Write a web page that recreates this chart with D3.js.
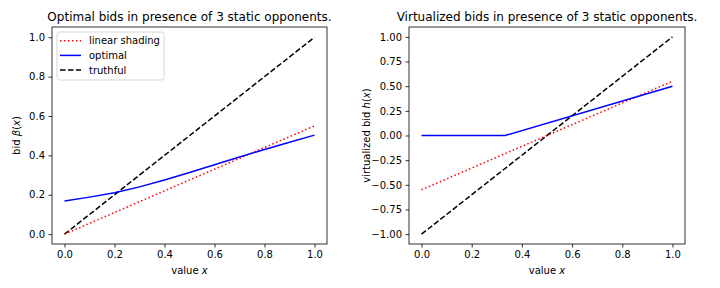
<!DOCTYPE html>
<html>
<head>
<meta charset="utf-8">
<script src="https://cdn.jsdelivr.net/npm/d3@7"></script>
<style>
  body { margin: 0; background: #fff; }
  svg text { font-family: "DejaVu Sans", sans-serif; fill: #000; }
</style>
</head>
<body>
<div id="chart"></div>
<script>
// ---- data ----
const valueGrid     = [0, 0.1, 0.2, 0.3, 0.4, 0.5, 0.6, 0.7, 0.8, 0.9, 1.0];
const optimalBid    = [0.168, 0.188, 0.210, 0.240, 0.275, 0.313, 0.352, 0.392, 0.430, 0.467, 0.503];
const shadingEnds   = [0, 0.55];
const truthfulEnds  = [0, 1];

const virtualX        = [0, 1 / 3, 1];
const virtualOptimal  = [0, 0, 0.5];
const virtualShading  = [-0.55, 0.55];
const virtualTruthful = [-1, 1];
const endsX           = [0, 1];

const xTicks      = [0, 0.2, 0.4, 0.6, 0.8, 1.0];
const leftYTicks  = [0, 0.2, 0.4, 0.6, 0.8, 1.0];
const rightYTicks = [-1, -0.75, -0.5, -0.25, 0, 0.25, 0.5, 0.75, 1];

const legendItems = [
  { label: "linear shading", color: "#ff0000", dash: "1.5,2.475" },
  { label: "optimal",        color: "#0000ff", dash: null },
  { label: "truthful",       color: "#000000", dash: "5.55,2.4" }
];

const width = 720, height = 288;
const svg = d3.select("#chart").append("svg")
  .attr("width", width)
  .attr("height", height);

const fmtMinus = s => s.replace("-", "\u2212");

function drawPanel(opt) {
  const x = d3.scaleLinear().domain([-0.05, 1.05]).range([opt.left, opt.right]);
  const y = d3.scaleLinear().domain(opt.yDomain).range([opt.bottom, opt.top]);
  const g = svg.append("g");
  const line = d3.line().x(d => x(d[0])).y(d => y(d[1]));

  // series
  opt.series.forEach(s => {
    g.append("path")
      .datum(d3.zip(s.xs, s.ys))
      .attr("d", line)
      .attr("fill", "none")
      .attr("stroke", s.item.color)
      .attr("stroke-width", 1.5)
      .attr("stroke-dasharray", s.item.dash);
  });

  // axes
  const xAxis = d3.axisBottom(x).tickValues(xTicks).tickFormat(d3.format(".1f"))
    .tickSize(3.5).tickPadding(3.5);
  const yAxis = d3.axisLeft(y).tickValues(opt.yTicks)
    .tickFormat(d => fmtMinus(d3.format(opt.yFormat)(d)))
    .tickSize(3.5).tickPadding(3.5);

  g.append("g").attr("transform", `translate(0,${opt.bottom})`).call(xAxis)
    .call(a => a.select(".domain").remove());
  g.append("g").attr("transform", `translate(${opt.left},0)`).call(yAxis)
    .call(a => a.select(".domain").remove());
  g.selectAll(".tick line").attr("stroke", "#000").attr("stroke-width", 0.8);
  g.selectAll(".tick text").attr("font-size", 10).attr("fill", "#000")
    .attr("font-family", "DejaVu Sans, sans-serif");

  // frame
  g.append("rect")
    .attr("x", opt.left).attr("y", opt.top)
    .attr("width", opt.right - opt.left).attr("height", opt.bottom - opt.top)
    .attr("fill", "none").attr("stroke", "#000").attr("stroke-width", 0.8);

  // title and labels
  g.append("text")
    .attr("x", (opt.left + opt.right) / 2).attr("y", 21)
    .attr("text-anchor", "middle").attr("font-size", 12)
    .text(opt.title);

  const xl = g.append("text")
    .attr("x", (opt.left + opt.right) / 2).attr("y", 274)
    .attr("text-anchor", "middle").attr("font-size", 10);
  xl.append("tspan").text("value ");
  xl.append("tspan").attr("font-style", "italic").text("x");

  const yl = g.append("text")
    .attr("transform", `translate(${opt.ylabelX},${(opt.top + opt.bottom) / 2}) rotate(-90)`)
    .attr("text-anchor", "middle").attr("font-size", 10);
  opt.ylabel.forEach(p => yl.append("tspan").attr("font-style", p.italic ? "italic" : null).text(p.t));

  return g;
}

drawPanel({
  left: 52, right: 327, top: 27, bottom: 244,
  yDomain: [-0.05, 1.052],
  yTicks: leftYTicks, yFormat: ".1f",
  title: "Optimal bids in presence of 3 static opponents.",
  ylabelX: 20,
  ylabel: [{ t: "bid " }, { t: "\u03B2", italic: true }, { t: "(" }, { t: "x", italic: true }, { t: ")" }],
  series: [
    { xs: endsX, ys: truthfulEnds, item: legendItems[2] },
    { xs: endsX, ys: shadingEnds, item: legendItems[0] },
    { xs: valueGrid, ys: optimalBid, item: legendItems[1] }
  ]
});

drawPanel({
  left: 409, right: 685, top: 27, bottom: 244,
  yDomain: [-1.1, 1.1],
  yTicks: rightYTicks, yFormat: ".2f",
  title: "Virtualized bids in presence of 3 static opponents.",
  ylabelX: 370,
  ylabel: [{ t: "virtualized bid " }, { t: "h", italic: true }, { t: "(" }, { t: "x", italic: true }, { t: ")" }],
  series: [
    { xs: endsX, ys: virtualTruthful, item: legendItems[2] },
    { xs: endsX, ys: virtualShading, item: legendItems[0] },
    { xs: virtualX, ys: virtualOptimal, item: legendItems[1] }
  ]
});

// legend in left panel
const legend = svg.append("g").attr("transform", "translate(57,32)");
legend.append("rect")
  .attr("width", 107).attr("height", 48).attr("rx", 2.5)
  .attr("fill", "#fff").attr("fill-opacity", 0.8)
  .attr("stroke", "#cccccc").attr("stroke-width", 0.8);
legendItems.forEach((d, i) => {
  const yy = 8.7 + i * 14.7;
  legend.append("line")
    .attr("x1", 3).attr("x2", 24).attr("y1", yy).attr("y2", yy)
    .attr("stroke", d.color).attr("stroke-width", 1.5)
    .attr("stroke-dasharray", d.dash);
  legend.append("text")
    .attr("x", 32).attr("y", yy).attr("dy", "0.35em")
    .attr("font-size", 10).text(d.label);
});
</script>
</body>
</html>
